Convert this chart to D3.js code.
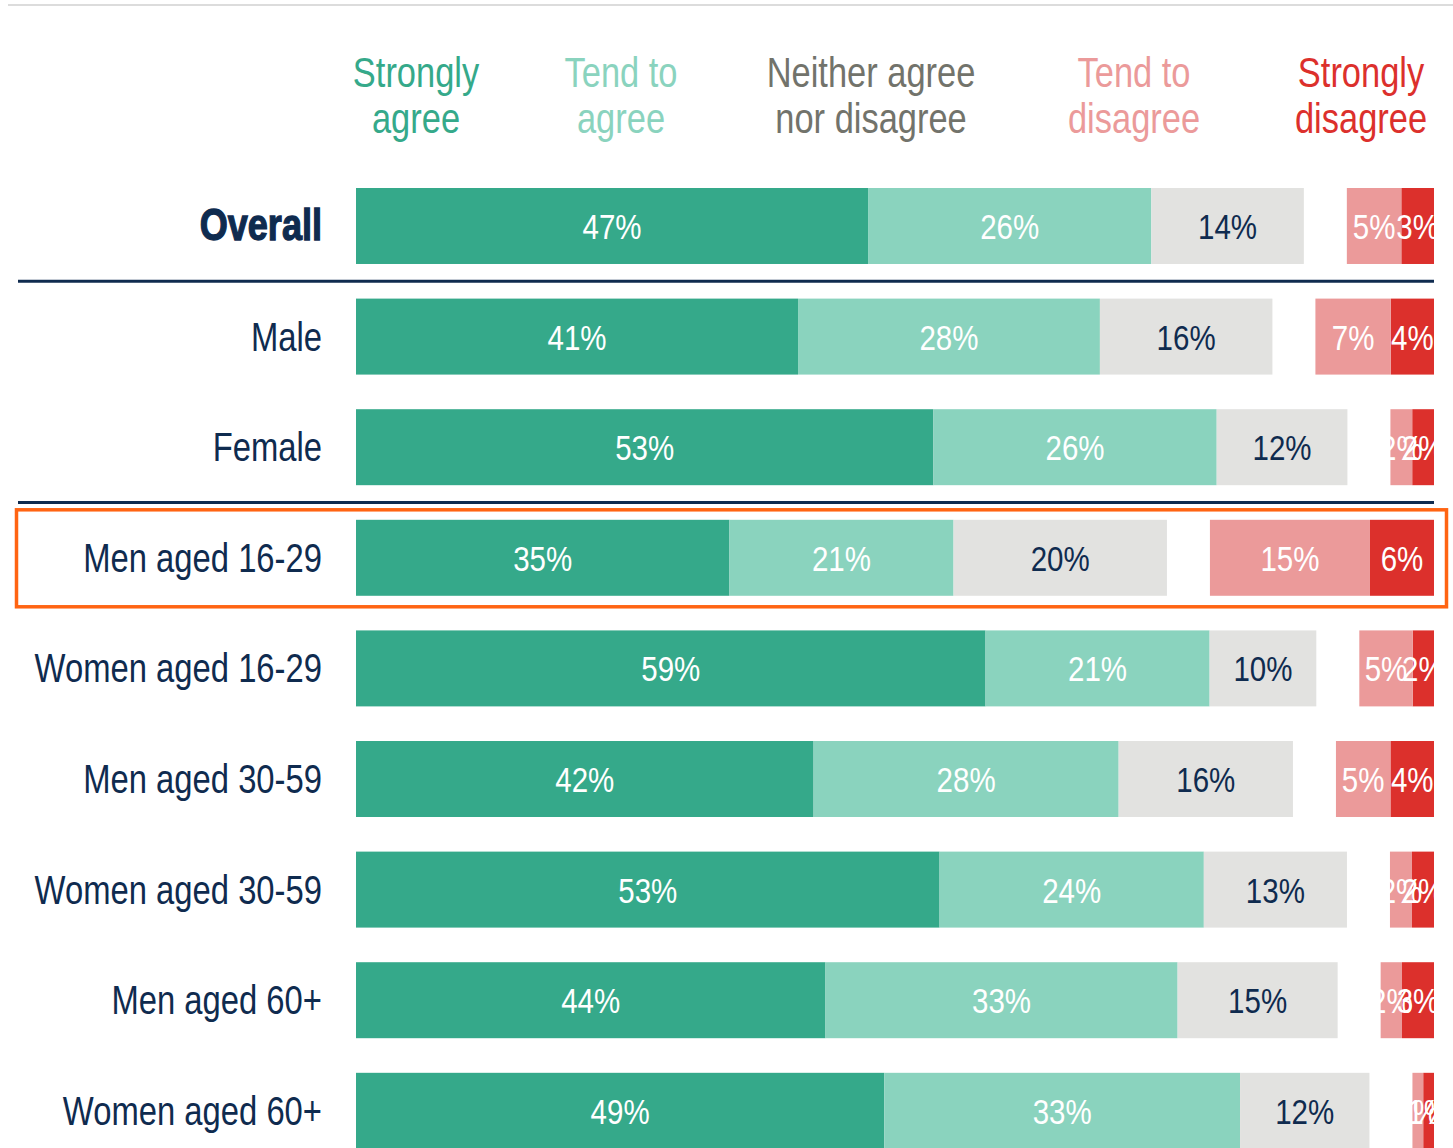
<!DOCTYPE html>
<html>
<head>
<meta charset="utf-8">
<script src="https://cdn.jsdelivr.net/npm/d3@7"></script>
<style>
body { margin: 0; background: #fff; }
text { font-family: "Liberation Sans", Arial, sans-serif; }
</style>
</head>
<body>
<div id="vis"></div>
<script>
// data
var groups = ["Overall", "Male", "Female", "Men aged 16-29", "Women aged 16-29",
  "Men aged 30-59", "Women aged 30-59", "Men aged 60+", "Women aged 60+"];
var stronglyAgree    = [47, 41, 53, 35, 59, 42, 53, 44, 49];
var tendToAgree      = [26, 28, 26, 21, 21, 28, 24, 33, 33];
var neither          = [14, 16, 12, 20, 10, 16, 13, 15, 12];
var tendToDisagree   = [5, 7, 2, 15, 5, 5, 2, 2, 1];
var stronglyDisagree = [3, 4, 2, 6, 2, 4, 2, 3, 1];
var headers = [["Strongly", "agree"], ["Tend to", "agree"], ["Neither agree", "nor disagree"],
  ["Tend to", "disagree"], ["Strongly", "disagree"]];

var w = 1453;
var h = 1148;
var left = 356;
var right = 1434;
var gap = 43;
var squeeze = 0.82; // fake a condensed face
var navy = "#0f2b4f";
var colors = ["#35a98a", "#8ad3be", "#e2e2e0", "#eb9a9a", "#dc302c"];
var headColors = ["#35a98a", "#8ad3be", "#72736b", "#eb9a9a", "#dc302c"];
var headX = [416, 621, 871, 1134, 1361];

var svg = d3.select("#vis")
  .append("svg")
  .attr("width", w)
  .attr("height", h);

svg.append("defs").append("clipPath")
  .attr("id", "clip")
  .append("rect")
  .attr("x", 0).attr("y", 0)
  .attr("width", right).attr("height", h);

// condensed text helper
function label(sel, x, y, str) {
  return sel.append("text")
    .attr("transform", `translate(${x},${y}) scale(${squeeze},1)`)
    .text(str);
}

// top rule
svg.append("line")
  .attr("x1", 8).attr("x2", w)
  .attr("y1", 5).attr("y2", 5)
  .attr("stroke", "#dcdcdc").attr("stroke-width", 2);

// column headers
headers.forEach(function (lines, i) {
  lines.forEach(function (l, j) {
    label(svg, headX[i], 87 + j * 46, l)
      .attr("text-anchor", "middle")
      .attr("fill", headColors[i])
      .attr("font-size", 42);
  });
});

var y = d3.scaleBand()
  .domain(groups)
  .range([188, 188 + 8 * 110.6 + 76])
  .paddingInner(0.313);

var rows = groups.map(function (g, i) {
  return {
    name: g,
    vals: [stronglyAgree[i], tendToAgree[i], neither[i], tendToDisagree[i], stronglyDisagree[i]]
  };
});

var main = svg.append("g").attr("clip-path", "url(#clip)");

rows.forEach(function (r) {
  var total = d3.sum(r.vals);
  var x = d3.scaleLinear().domain([0, total]).range([0, right - left - gap]);
  var segs = [];
  var pos = left;
  r.vals.slice(0, 3).forEach(function (v, k) {
    segs.push({ k: k, v: v, x0: pos, x1: pos + x(v) });
    pos += x(v);
  });
  pos = right;
  [4, 3].forEach(function (k) {
    var v = r.vals[k];
    segs.push({ k: k, v: v, x0: pos - x(v), x1: pos });
    pos -= x(v);
  });

  var g = main.append("g");
  g.selectAll("rect")
    .data(segs)
    .enter()
    .append("rect")
    .attr("x", d => d.x0)
    .attr("width", d => d.x1 - d.x0)
    .attr("y", y(r.name))
    .attr("height", y.bandwidth())
    .attr("fill", d => colors[d.k]);

  segs.forEach(function (d) {
    label(g, (d.x0 + d.x1) / 2, y(r.name) + y.bandwidth() / 2 + 13, d.v + "%")
      .attr("text-anchor", "middle")
      .attr("font-size", 36)
      .attr("fill", d.k == 2 ? navy : "#fff");
  });

  var big = r.name == "Overall";
  label(svg, 322, y(r.name) + y.bandwidth() / 2 + 14, r.name)
    .attr("text-anchor", "end")
    .attr("fill", navy)
    .attr("font-size", big ? 44 : 40)
    .attr("font-weight", big ? "bold" : "normal")
    .attr("stroke", big ? navy : null)
    .attr("stroke-width", big ? 1.3 : null);
});

// separators
["Male", "Men aged 16-29"].forEach(function (g) {
  var yy = y(g) - (y.step() - y.bandwidth()) / 2;
  svg.append("line")
    .attr("x1", 18).attr("x2", right)
    .attr("y1", yy).attr("y2", yy)
    .attr("stroke", navy).attr("stroke-width", 3);
});

// highlight box
svg.append("rect")
  .attr("x", 16.5)
  .attr("y", y("Men aged 16-29") - 10)
  .attr("width", 1430)
  .attr("height", y.bandwidth() + 21)
  .attr("fill", "none")
  .attr("stroke", "#ff6412")
  .attr("stroke-width", 3.5);
</script>
</body>
</html>
